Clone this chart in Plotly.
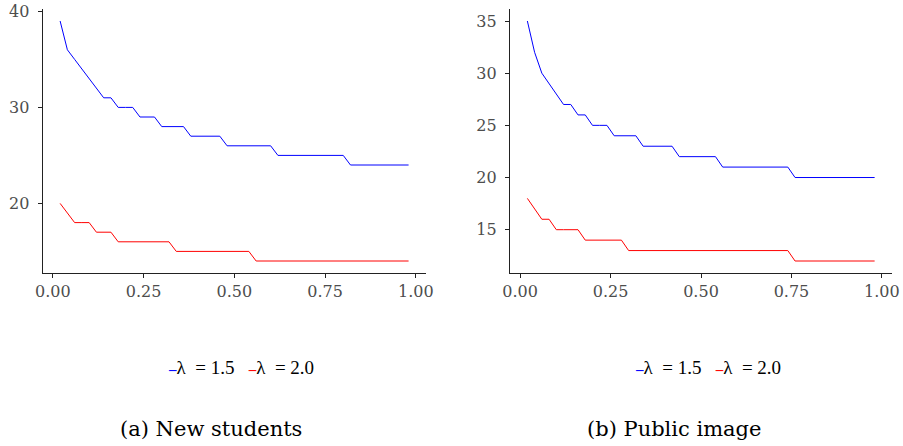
import plotly.graph_objects as go

# ---- data ----
x_share = [0.02, 0.04, 0.06, 0.08, 0.10, 0.12, 0.14, 0.16, 0.18, 0.20,
           0.22, 0.24, 0.26, 0.28, 0.30, 0.32, 0.34, 0.36, 0.38, 0.40,
           0.42, 0.44, 0.46, 0.48, 0.50, 0.52, 0.54, 0.56, 0.58, 0.60,
           0.62, 0.64, 0.66, 0.68, 0.70, 0.72, 0.74, 0.76, 0.78, 0.80,
           0.82, 0.84, 0.86, 0.88, 0.90, 0.92, 0.94, 0.96, 0.98]

new_students_l15 = [39, 36, 35, 34, 33, 32, 31, 31, 30, 30,
                    30, 29, 29, 29, 28, 28, 28, 28, 27, 27,
                    27, 27, 27, 26, 26, 26, 26, 26, 26, 26,
                    25, 25, 25, 25, 25, 25, 25, 25, 25, 25,
                    24, 24, 24, 24, 24, 24, 24, 24, 24]
new_students_l20 = [20, 19, 18, 18, 18, 17, 17, 17, 16, 16,
                    16, 16, 16, 16, 16, 16, 15, 15, 15, 15,
                    15, 15, 15, 15, 15, 15, 15, 14, 14, 14,
                    14, 14, 14, 14, 14, 14, 14, 14, 14, 14,
                    14, 14, 14, 14, 14, 14, 14, 14, 14]

public_image_l15 = [35, 32, 30, 29, 28, 27, 27, 26, 26, 25,
                    25, 25, 24, 24, 24, 24, 23, 23, 23, 23,
                    23, 22, 22, 22, 22, 22, 22, 21, 21, 21,
                    21, 21, 21, 21, 21, 21, 21, 20, 20, 20,
                    20, 20, 20, 20, 20, 20, 20, 20, 20]
public_image_l20 = [18, 17, 16, 16, 15, 15, 15, 15, 14, 14,
                    14, 14, 14, 14, 13, 13, 13, 13, 13, 13,
                    13, 13, 13, 13, 13, 13, 13, 13, 13, 13,
                    13, 13, 13, 13, 13, 13, 13, 12, 12, 12,
                    12, 12, 12, 12, 12, 12, 12, 12, 12]

series_labels = ["λ = 1.5", "λ = 2.0"]
series_colors = ["#0000ff", "#ff0000"]
x_ticks = [0.0, 0.25, 0.5, 0.75, 1.0]
x_ticklabels = ["0.00", "0.25", "0.50", "0.75", "1.00"]
left_yticks = [20, 30, 40]
right_yticks = [15, 20, 25, 30, 35]
captions = ["(a) New students", "(b) Public image"]

# ---- figure geometry (body margin removed by post_script) ----
W, H = 903, 446

def px(p):  # page x -> paper fraction
    return p / W

def py(p):  # page y -> paper fraction
    return 1 - p / H

fig = go.Figure()

panels = [
    ("x", "y", [new_students_l15, new_students_l20]),
    ("x2", "y2", [public_image_l15, public_image_l20]),
]
for xa, ya, series in panels:
    for vals, lab, col in zip(series, series_labels, series_colors):
        fig.add_trace(go.Scatter(
            x=x_share, y=vals, mode="lines", name=lab,
            line=dict(color=col, width=1), xaxis=xa, yaxis=ya,
            showlegend=False, hoverinfo="skip",
        ))

def yrange(series):
    lo = min(min(s) for s in series)
    hi = max(max(s) for s in series)
    pad = (hi - lo) * 0.05
    return [lo - pad, hi + pad]

xr = [min(x_share) - 0.048, max(x_share) + 0.048]

tickfont = dict(family="DejaVu Serif", size=16, color="#4d4d4d")
axis_common = dict(
    showline=True, linecolor="#222222", linewidth=1.2,
    ticks="outside", ticklen=4, tickwidth=1, tickcolor="#222222",
    showgrid=False, zeroline=False, tickfont=tickfont, automargin=False,
)

fig.update_layout(
    width=W, height=H,
    margin=dict(l=0, r=0, t=0, b=0, pad=0),
    paper_bgcolor="white", plot_bgcolor="white",
    xaxis=dict(domain=[px(42.7), px(426)], range=xr, tickvals=x_ticks,
               ticktext=x_ticklabels, anchor="y", **axis_common),
    yaxis=dict(domain=[py(273), py(9)], range=yrange([new_students_l15, new_students_l20]),
               tickvals=left_yticks, anchor="x", ticklabelstandoff=5, **axis_common),
    xaxis2=dict(domain=[px(510), px(892)], range=xr, tickvals=x_ticks,
                ticktext=x_ticklabels, anchor="y2", **axis_common),
    yaxis2=dict(domain=[py(273), py(9)], range=yrange([public_image_l15, public_image_l20]),
                tickvals=right_yticks, anchor="x2", ticklabelstandoff=5, **axis_common),
)

nb = "\u00a0"
def lab(s):
    return s.replace("λ ", "λ" + nb + nb).replace(" ", nb)

def key(color):
    return f'<span style="color:{color};font-size:15px;font-weight:bold">–</span>'

legend_text = (
    key(series_colors[0]) + lab(series_labels[0])
    + nb * 3
    + key(series_colors[1]) + lab(series_labels[1])
)

for cx, cap, capx in [(241.5, captions[0], 210.8), (708, captions[1], 674.5)]:
    fig.add_annotation(
        xref="paper", yref="paper", x=px(cx), y=py(367),
        text=legend_text, showarrow=False, xanchor="center", yanchor="middle",
        font=dict(family="Liberation Serif", size=19, color="black"),
    )
    fig.add_annotation(
        xref="paper", yref="paper", x=px(capx), y=py(429),
        text=cap, showarrow=False, xanchor="center", yanchor="middle",
        font=dict(family="DejaVu Serif", size=21, color="black"),
    )

fig.write_html(
    "out.html",
    config={"displayModeBar": False},
    post_script="document.body.style.margin='0';document.body.style.overflow='hidden';",
)
